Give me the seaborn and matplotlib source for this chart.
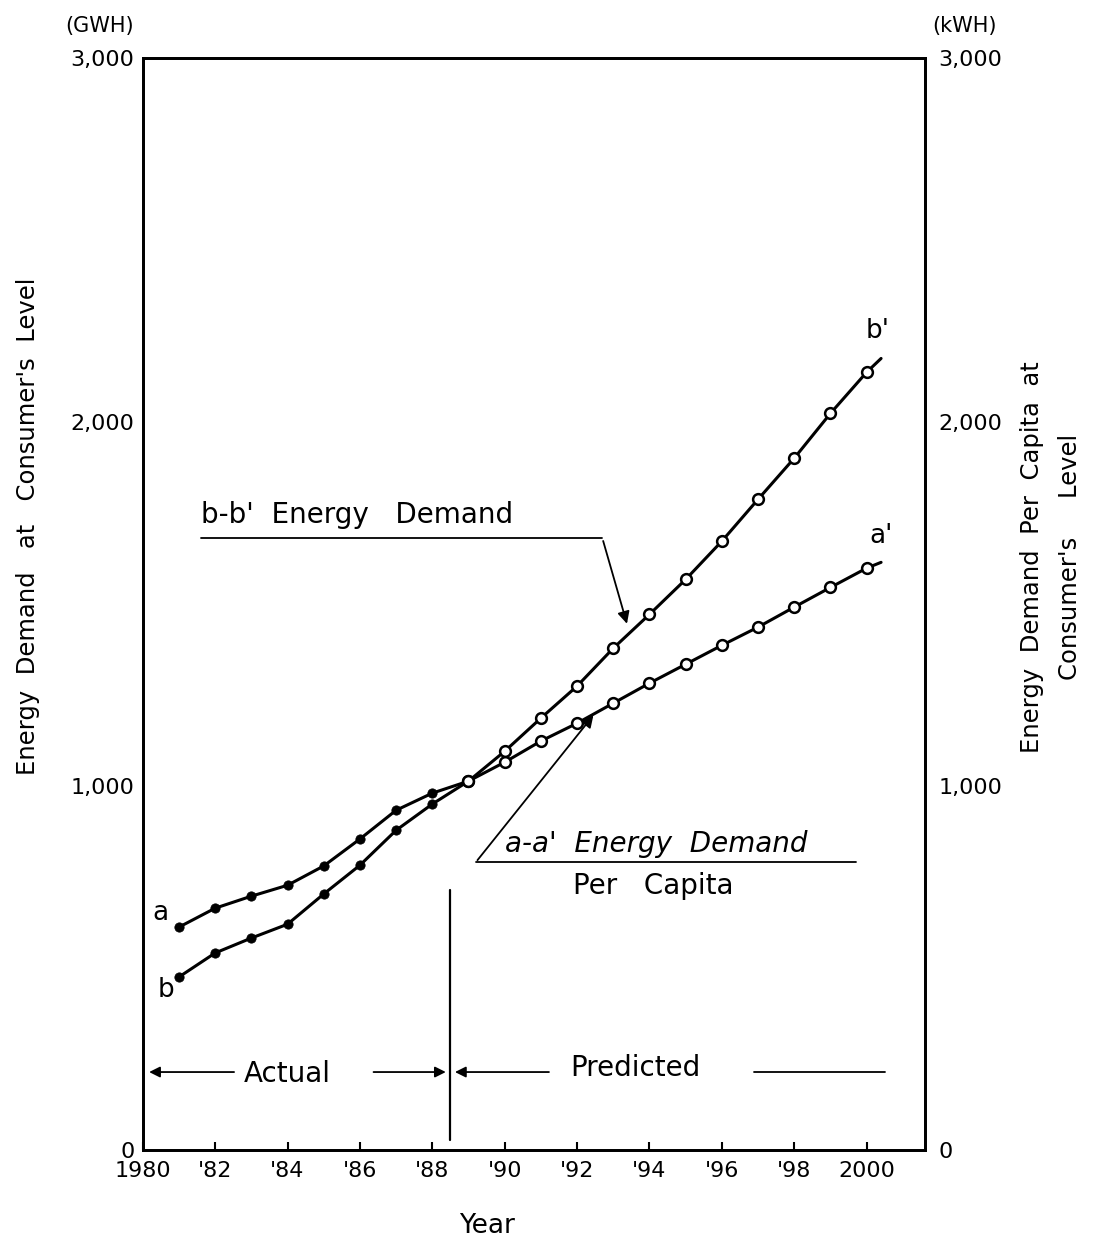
import matplotlib
matplotlib.use("Agg")
import matplotlib.pyplot as plt
import numpy as np
import pandas as pd
import seaborn as sns

# values
years = [1981, 1982, 1983, 1984, 1985, 1986, 1987, 1988, 1989, 1990,
         1991, 1992, 1993, 1994, 1995, 1996, 1997, 1998, 1999, 2000]
per_capita = [612, 664, 697, 727, 780, 854, 933, 980, 1013, 1065,
              1123, 1172, 1227, 1282, 1334, 1386, 1436, 1491, 1545, 1598]
total = [475, 541, 582, 620, 703, 782, 878, 950, 1013, 1095,
         1186, 1274, 1378, 1471, 1567, 1672, 1787, 1900, 2023, 2136]
tail_year = 2000.4
tail_per_capita = 1614
tail_total = 2174
split_year = 1988.5

xticks = [1980, 1982, 1984, 1986, 1988, 1990, 1992, 1994, 1996, 1998, 2000]
xticklabels = ["1980", "'82", "'84", "'86", "'88", "'90", "'92", "'94", "'96", "'98", "2000"]
yticks = [0, 1000, 2000, 3000]
left_labels = ["0", "1,000", "2,000", "3,000"]
right_labels = ["0", "1,000", "2,000", "3,000"]

sns.set_style("ticks")
plt.rcParams['font.family'] = ['DejaVu Sans']
plt.rcParams['text.color'] = 'black'
plt.rcParams['axes.labelcolor'] = 'black'
plt.rcParams['xtick.color'] = 'black'
plt.rcParams['ytick.color'] = 'black'
plt.rcParams['axes.edgecolor'] = 'black'

df = pd.DataFrame({'year': years, 'a': per_capita, 'b': total})
line_a = pd.DataFrame({'year': years + [tail_year], 'v': per_capita + [tail_per_capita]})
line_b = pd.DataFrame({'year': years + [tail_year], 'v': total + [tail_total]})
actual = df[df.year < split_year]
pred = df[df.year > split_year]

fig = plt.figure(figsize=(10.98, 12.44), dpi=100)
ax = fig.add_axes([0.130, 0.0756, 0.712, 0.878])

sns.lineplot(data=line_a, x='year', y='v', color='black', lw=2.2, ax=ax)
sns.lineplot(data=line_b, x='year', y='v', color='black', lw=2.2, ax=ax)
for col in ['a', 'b']:
    sns.scatterplot(data=actual, x='year', y=col, color='black', s=45,
                    edgecolor='black', zorder=5, ax=ax)
    sns.scatterplot(data=pred, x='year', y=col, color='white', s=60,
                    edgecolor='black', linewidth=1.8, zorder=5, ax=ax)

ax.set_xlim(1980, 2001.6)
ax.set_ylim(0, 3000)
ax.set_xticks(xticks)
ax.set_xticklabels(xticklabels, fontsize=16)
ax.set_yticks(yticks)
ax.set_yticklabels(left_labels, fontsize=16)
ax.tick_params(axis='x', direction='in', length=6, width=1.5, pad=8)
ax.tick_params(axis='y', direction='in', length=0, pad=6)
ax.set_xlabel("Year", fontsize=19)
ax.xaxis.set_label_coords(0.44, -0.058)
ax.set_ylabel("Energy  Demand   at   Consumer's  Level", fontsize=17.5)
ax.yaxis.set_label_coords(-0.132, 0.571)
for s in ax.spines.values():
    s.set_linewidth(2)

ax2 = ax.twinx()
ax2.set_ylim(0, 3000)
ax2.set_yticks(yticks)
ax2.set_yticklabels(right_labels, fontsize=16)
ax2.tick_params(axis='y', direction='in', length=0, pad=10)
for s in ax2.spines.values():
    s.set_linewidth(2)
fig.text(1032 / 1098, 1 - 557 / 1244, "Energy  Demand  Per  Capita  at", fontsize=17.5,
         rotation=90, ha='center', va='center')
fig.text(1070 / 1098, 1 - 557 / 1244, "Consumer's     Level", fontsize=17.5,
         rotation=90, ha='center', va='center')

ax.text(1978.8, 3060, "(GWH)", fontsize=15, ha='center', va='bottom')
ax.text(2002.7, 3060, "(kWH)", fontsize=15, ha='center', va='bottom')

# curve end labels
ax.text(1980.5, 650, "a", fontsize=19, ha='center', va='center')
ax.text(1980.65, 440, "b", fontsize=19, ha='center', va='center')
ax.text(2000.4, 1685, "a'", fontsize=19, ha='center', va='center')
ax.text(2000.3, 2250, "b'", fontsize=19, ha='center', va='center')

# b-b' callout
ax.text(1981.6, 1745, "b-b'  Energy   Demand", fontsize=20, ha='left', va='center')
ax.plot([1981.6, 1992.7], [1680, 1680], color='black', lw=1.3)
ax.annotate("", xy=(1993.4, 1438), xytext=(1992.7, 1680),
            arrowprops=dict(arrowstyle='-|>', color='black', lw=1.3, mutation_scale=18))

# a-a' callout
ax.text(1994.2, 840, "a-a'  Energy  Demand", fontsize=20, ha='center', va='center',
        style='italic')
ax.text(1994.1, 725, "Per   Capita", fontsize=20, ha='center', va='center')
ax.plot([1989.2, 1999.7], [790, 790], color='black', lw=1.3)
ax.annotate("", xy=(1992.5, 1200), xytext=(1989.2, 790),
            arrowprops=dict(arrowstyle='-|>', color='black', lw=1.3, mutation_scale=18))

# actual / predicted split
ax.plot([split_year, split_year], [28, 715], color='black', lw=1.6)
ax.annotate("", xy=(1980.1, 214), xytext=(1982.6, 214),
            arrowprops=dict(arrowstyle='-|>', color='black', lw=1.3, mutation_scale=16))
ax.text(1984.0, 208, "Actual", fontsize=20, ha='center', va='center')
ax.annotate("", xy=(split_year - 0.05, 214), xytext=(1986.3, 214),
            arrowprops=dict(arrowstyle='-|>', color='black', lw=1.3, mutation_scale=16))
ax.annotate("", xy=(split_year + 0.05, 214), xytext=(1991.3, 214),
            arrowprops=dict(arrowstyle='-|>', color='black', lw=1.3, mutation_scale=16))
ax.text(1993.6, 225, "Predicted", fontsize=20, ha='center', va='center')
ax.plot([1996.9, 2000.5], [214, 214], color='black', lw=1.3)

fig.savefig("out.png", dpi=100)
